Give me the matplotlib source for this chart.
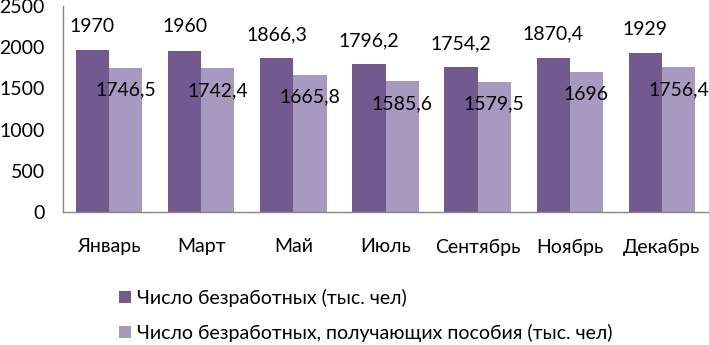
import matplotlib
matplotlib.use("Agg")
import matplotlib.pyplot as plt
import numpy as np

months = ["Январь", "Март", "Май", "Июль", "Сентябрь", "Ноябрь", "Декабрь"]
unemployed = [1970, 1960, 1866.3, 1796.2, 1754.2, 1870.4, 1929]
with_benefit = [1746.5, 1742.4, 1665.8, 1585.6, 1579.5, 1696, 1756.4]
series_names = ["Число безработных (тыс. чел)",
                "Число безработных, получающих пособия (тыс. чел)"]

dark = "#725A8F"
light = "#A899C0"

plt.rcParams["font.family"] = ["Lato", "DejaVu Sans"]
plt.rcParams["font.size"] = 14


def fmt(v):
    # запятая как десятичный разделитель
    s = f"{v:g}"
    return s.replace(".", ",")


def main() -> None:
    fig = plt.figure(figsize=(7.09, 3.45), dpi=100)
    ax = fig.add_axes([0.0889, 0.3855, 0.9097, 0.597])

    x = np.arange(len(months))
    w = 0.36
    b1 = ax.bar(x - w / 2, unemployed, w, color=dark, label=series_names[0])
    b2 = ax.bar(x + w / 2, with_benefit, w, color=light, label=series_names[1])

    for rect, v in zip(b1, unemployed):
        ax.annotate(fmt(v), (rect.get_x() + rect.get_width() / 2, rect.get_height()),
                    xytext=(0, 17), textcoords="offset points",
                    ha="center", va="center")
    for rect, v in zip(b2, with_benefit):
        ax.annotate(fmt(v), (rect.get_x() + rect.get_width() / 2, rect.get_height()),
                    xytext=(0, -16), textcoords="offset points",
                    ha="center", va="center")

    ax.set_xlim(-0.5, len(months) - 0.5)
    ax.set_ylim(0, 2500)
    ax.set_yticks(range(0, 2501, 500))
    ax.set_xticks(x)
    ax.set_xticklabels(months)
    ax.tick_params(axis="x", length=0, pad=19)
    ax.tick_params(axis="y", length=0, pad=13)

    for side in ["top", "right"]:
        ax.spines[side].set_visible(False)
    for side in ["left", "bottom"]:
        ax.spines[side].set_color("#868686")
        ax.spines[side].set_linewidth(1)

    fig.legend(handles=[b1, b2], loc="upper left", bbox_to_anchor=(0.168, 0.162),
               bbox_transform=fig.transFigure, frameon=False,
               handlelength=0.6, handleheight=0.6, handletextpad=0.3,
               labelspacing=0.85, borderpad=0, borderaxespad=0)

    fig.savefig("out.png", dpi=100)


if __name__ == "__main__":
    main()
